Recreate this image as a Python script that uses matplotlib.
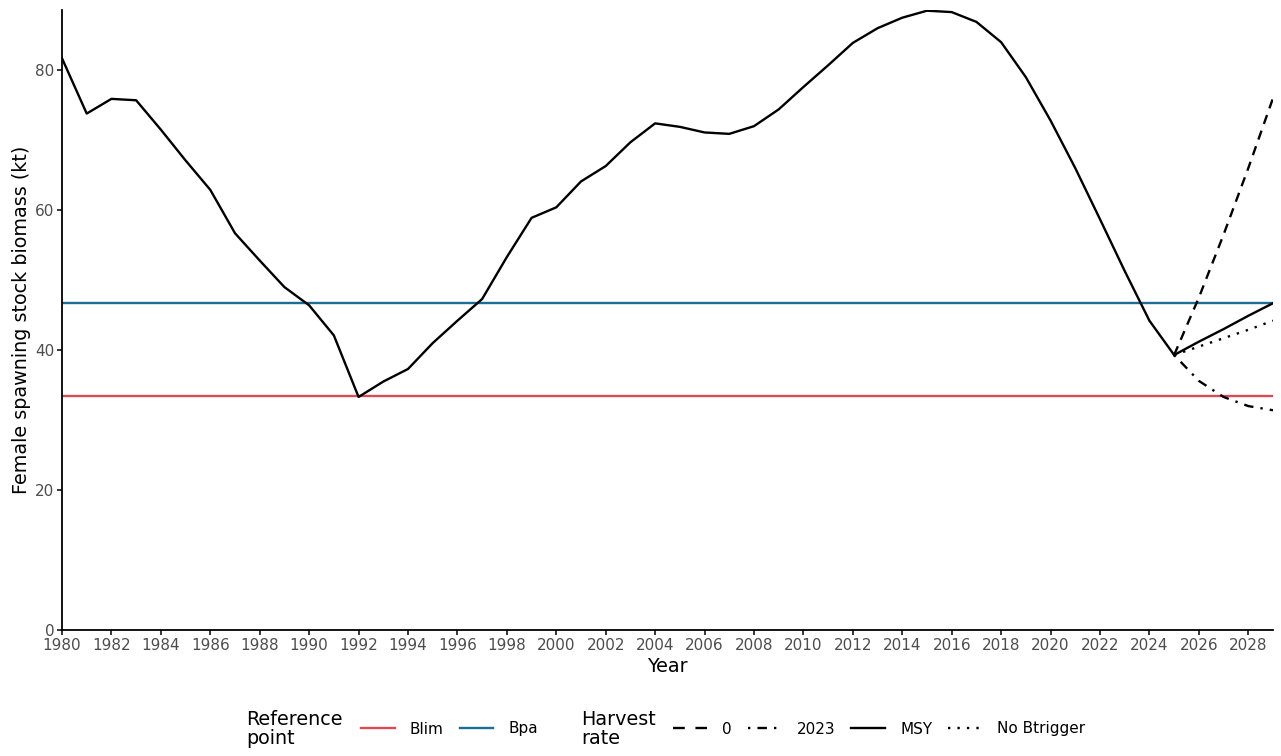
import numpy as np
import matplotlib
matplotlib.use("Agg")
import matplotlib.pyplot as plt
from matplotlib.lines import Line2D

# Historical female SSB (kt)
years = list(range(1980, 2026))
ssb = [81.7, 73.8, 75.9, 75.7, 71.5, 67.1, 62.9, 56.7, 52.8, 49.0,
       46.4, 42.1, 33.3, 35.5, 37.3, 41.0, 44.2, 47.3, 53.3, 58.9,
       60.4, 64.1, 66.3, 69.7, 72.4, 71.9, 71.1, 70.9, 72.0, 74.4,
       77.6, 80.7, 83.9, 86.0, 87.5, 88.5, 88.3, 86.9, 84.0, 79.0,
       72.8, 66.0, 58.7, 51.3, 44.2, 39.3]

# Projections by harvest rate
proj_years = [2025, 2026, 2027, 2028, 2029]
proj_labels = ["0", "2023", "MSY", "No Btrigger"]
proj_values = {
    "0": [39.3, 47.5, 56.5, 66.0, 76.0],
    "2023": [39.3, 35.6, 33.3, 32.0, 31.4],
    "MSY": [39.3, 41.2, 43.0, 44.9, 46.7],
    "No Btrigger": [39.3, 40.5, 41.7, 42.9, 44.2],
}
proj_styles = {
    "0": (0, (4, 3)),
    "2023": (0, (1, 3, 4, 3)),
    "MSY": "-",
    "No Btrigger": (0, (1, 3)),
}
# legend keys: two long dashes for "0"
legend_styles = {
    "0": (0, (5, 4.5)),
    "2023": (0, (1, 3, 4, 3)),
    "MSY": "-",
    "No Btrigger": (0, (1, 3)),
}

# Reference points
ref_names = ["Blim", "Bpa"]
ref_values = [33.4, 46.7]
ref_colors = ["#DC4B55", "#1A6E94"]

LW = 1.7

fig = plt.figure(figsize=(12.81, 7.56), dpi=100)
ax = fig.add_axes([62 / 1281, 126 / 756, 1211 / 1281, 620 / 756])

for name, val, col in zip(ref_names, ref_values, ref_colors):
    ax.axhline(val, color=col, lw=LW, zorder=1)

ax.plot(years, ssb, color="black", lw=LW, zorder=3)
for lab in proj_labels:
    ax.plot(proj_years, proj_values[lab], color="black", lw=LW,
            linestyle=proj_styles[lab], zorder=3)

ax.set_xlim(1980, 2029)
ax.set_ylim(0, 88.6)
ax.set_xticks(range(1980, 2029, 2))
ax.set_yticks([0, 20, 40, 60, 80])
for s in ["top", "right"]:
    ax.spines[s].set_visible(False)
for s in ["left", "bottom"]:
    ax.spines[s].set_linewidth(1.3)
ax.tick_params(axis="both", colors="black", labelcolor="#4D4D4D",
               labelsize=11, length=3.5, width=1.1)
ax.tick_params(axis="x", pad=2.5)
ax.tick_params(axis="y", pad=2)
ax.set_xlabel("Year", fontsize=13.75, labelpad=3)
ax.set_ylabel("Female spawning stock biomass (kt)", fontsize=13.75, labelpad=3)

# Legends along the bottom
leg_kw = dict(loc="center left", frameon=False, fontsize=11,
              handlelength=2.2, handletextpad=1.0, columnspacing=1.05,
              borderpad=0, borderaxespad=0)
ref_handles = [Line2D([], [], color=c, lw=LW) for c in ref_colors]
fig.legend(ref_handles, ref_names, bbox_to_anchor=(361 / 1281, 27 / 756),
           ncol=2, **leg_kw)
harv_handles = [Line2D([], [], color="black", lw=LW, linestyle=legend_styles[l])
                for l in proj_labels]
fig.legend(harv_handles, proj_labels, bbox_to_anchor=(673 / 1281, 27 / 756),
           ncol=4, **leg_kw)
fig.text(246 / 1281, 27 / 756, "Reference\npoint", fontsize=13.75,
         va="center", ha="left", linespacing=0.95)
fig.text(581 / 1281, 27 / 756, "Harvest\nrate", fontsize=13.75,
         va="center", ha="left", linespacing=0.95)

fig.savefig("out.png", dpi=100)
